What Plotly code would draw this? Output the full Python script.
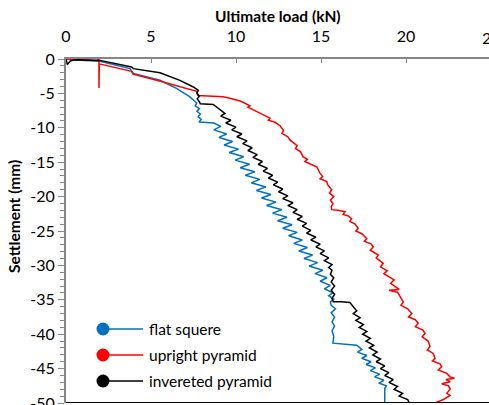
import plotly.graph_objects as go

# ---------------- data ----------------
series_names = ["flat squere", "upright pyramid", "invereted pyramid"]

flat_load = [0, 0.3, 2.0, 3.76, 3.96, 5.53, 6.5, 7.29, 7.69, 7.6, 7.85, 7.7, 7.9, 7.78, 7.95, 7.82,
             8.7, 9.1, 8.7, 9.45, 9.0, 9.8, 9.3, 10.15, 9.6, 10.45, 9.95, 10.8, 10.25, 11.1, 10.55,
             11.4, 10.9, 11.75, 11.2, 12.05, 11.5, 12.35, 11.8, 12.7, 12.15, 13.0, 12.45, 13.3, 12.75,
             13.6, 13.1, 13.9, 13.4, 14.2, 13.7, 14.5, 14.0, 14.8, 14.3, 15.1, 14.65, 15.35, 14.95,
             15.55, 15.2, 15.7, 15.45, 15.75, 15.55,
             15.6, 15.85, 15.6, 15.8, 15.65, 15.8, 15.65, 15.75, 15.7,
             17.1, 17.4, 17.15, 17.7, 17.4, 17.95, 17.65, 18.2, 17.9, 18.45, 18.15, 18.7, 18.4,
             18.85, 18.75, 18.75]
flat_settle = [0, -0.1, -0.33, -1.4, -2.1, -3.1, -4.26, -5.5, -6.4, -6.8, -7.2, -7.6, -8.0, -8.4, -8.8, -9.16,
               -9.3, -9.8, -10.3, -10.9, -11.4, -12.0, -12.5, -13.1, -13.6, -14.2, -14.7, -15.3, -15.8, -16.4, -16.9,
               -17.5, -18.0, -18.6, -19.1, -19.7, -20.2, -20.8, -21.3, -21.9, -22.4, -23.0, -23.5, -24.1, -24.6,
               -25.2, -25.7, -26.3, -26.8, -27.4, -27.9, -28.5, -29.0, -29.6, -30.1, -30.7, -31.2, -31.8, -32.3,
               -32.9, -33.4, -34.0, -34.4, -34.9, -35.3,
               -35.8, -36.3, -36.9, -37.5, -38.2, -38.8, -39.5, -40.3, -41.3,
               -41.6, -42.2, -42.6, -43.1, -43.5, -44.0, -44.4, -44.9, -45.3, -45.8, -46.2, -46.7, -47.1,
               -47.5, -47.9, -50.0]

upright_load = [0, 1.8, 1.94, 1.94, 1.96, 3.86, 3.94, 5.5, 7.0, 7.69, 7.76, 8.5, 9.24, 9.7, 10.24, 10.5,
                10.82, 10.7, 11.2, 11.6, 12.0, 11.9, 12.3, 12.59, 12.8, 12.7, 13.05, 13.18, 13.6, 13.5,
                13.8, 13.94, 14.2, 14.05, 14.35, 14.76, 14.94, 15.1, 14.95, 15.34, 15.4, 15.63, 15.5,
                15.75, 15.55, 15.7, 15.6, 15.63, 16.0, 16.41, 16.3, 16.6, 16.8, 16.7, 17.0, 17.19, 17.05,
                17.4, 17.69, 17.55, 17.95, 18.08, 17.9, 18.37, 18.25, 18.66, 18.5, 18.9, 18.7, 18.96,
                19.3, 19.1, 19.6, 19.0, 19.5, 19.84, 19.7, 20.1, 20.34, 20.15, 20.55, 20.72, 20.55, 21.0,
                21.12, 20.95, 21.3, 21.41, 21.25, 21.6, 21.71, 21.55, 22.0, 22.1, 21.9, 22.4, 22.59,
                22.85, 22.35, 22.6, 22.1, 22.5, 22.6, 22.4, 22.59, 22.2, 21.71]
upright_settle = [0, -0.2, -0.1, -4.2, -0.7, -1.8, -2.2, -3.2, -4.2, -4.7, -5.3, -5.35, -5.48, -5.75, -6.1, -6.4,
                  -6.8, -7.0, -7.66, -8.1, -8.6, -8.9, -9.2, -9.7, -10.4, -10.8, -11.3, -11.8, -12.6, -13.0,
                  -13.5, -14.2, -14.6, -14.9, -15.2, -15.7, -16.6, -17.1, -17.4, -17.8, -18.3, -19.0, -19.5,
                  -20.0, -20.5, -21.0, -21.5, -21.9, -22.0, -22.2, -22.6, -22.8, -23.2, -23.6, -24.0, -24.6, -25.0,
                  -25.4, -26.1, -26.5, -26.9, -27.3, -27.8, -28.5, -28.9, -29.7, -30.2, -30.8, -31.2, -31.6,
                  -32.1, -32.6, -33.5, -33.6, -33.9, -35.3, -35.8, -36.3, -37.0, -37.5, -37.9, -38.4, -38.9, -39.4,
                  -39.9, -40.4, -41.0, -41.8, -42.3, -42.8, -43.5, -43.9, -44.3, -44.7, -45.2, -45.7, -46.2,
                  -46.4, -46.6, -46.9, -47.2, -47.5, -48.0, -48.6, -48.9, -49.5, -50.0]

inverted_load = [0, 0.08, 0.25, 0.5, 2.0, 3.86, 3.96, 5.53, 6.7, 7.49, 7.78, 7.7, 7.85, 7.72, 7.85, 7.9,
                 8.66, 9.06, 9.35, 9.1, 9.7, 9.4, 10.0, 9.75, 10.35, 10.05, 10.65, 10.4, 10.95, 10.7,
                 11.25, 11.0, 11.55, 11.3, 11.85, 11.6, 12.15, 11.9, 12.45, 12.2, 12.75, 12.5, 13.05, 12.75,
                 13.35, 13.05, 13.6, 13.35, 13.9, 13.6, 14.15, 13.9, 14.4, 14.15, 14.7, 14.4, 14.95, 14.7,
                 15.2, 14.95, 15.45, 15.2, 15.65, 15.45, 15.65,
                 15.55, 15.75, 15.6, 15.8, 15.6, 15.8, 15.65, 15.72, 16.2, 16.7, 16.9,
                 17.1, 16.9, 17.3, 17.05, 17.5, 17.25, 17.7, 17.45, 17.9, 17.65, 18.1, 17.85, 18.3, 18.05,
                 18.5, 18.25, 18.75, 18.5, 19.0, 18.75, 19.25, 19.0, 19.5, 19.3, 19.8, 19.6, 20.1, 20.2]
inverted_settle = [0, -0.8, -0.3, -0.1, -0.2, -1.16, -1.4, -2.0, -3.1, -4.07, -4.55, -5.0, -5.4, -5.8, -6.25, -6.5,
                   -6.6, -7.4, -7.9, -8.3, -8.9, -9.3, -9.9, -10.3, -10.9, -11.3, -11.9, -12.3, -12.9, -13.3,
                   -13.9, -14.3, -14.9, -15.3, -15.9, -16.3, -16.9, -17.3, -17.9, -18.3, -18.9, -19.3, -19.9, -20.3,
                   -20.9, -21.3, -21.9, -22.3, -22.9, -23.3, -23.9, -24.3, -24.9, -25.3, -25.9, -26.3, -26.9, -27.3,
                   -27.9, -28.3, -28.9, -29.3, -29.9, -30.3, -30.7,
                   -31.3, -31.8, -32.4, -33.0, -33.6, -34.2, -34.8, -35.3, -35.3, -35.4, -36.0,
                   -36.6, -37.0, -37.6, -38.0, -38.6, -39.0, -39.6, -40.0, -40.6, -41.0, -41.6, -42.0, -42.6, -43.0,
                   -43.6, -44.0, -44.6, -45.0, -45.6, -46.0, -46.6, -47.0, -47.6, -48.0, -48.6, -49.0, -49.5, -50.0]

x_ticks = [0, 5, 10, 15, 20]
y_ticks = [0, -5, -10, -15, -20, -25, -30, -35, -40, -45, -50]
y_tick_text = ["0", "-5", "-10", "-15", "-20", "-25", "-30", "-35", "-40", "-45", "-50"]

# ---------------- figure ----------------
W, H = 489, 405
L, R, T, B = 66, 0, 59, 2
FONT = "Lato"
TICK_SIZE = 16
colors = ["#0070C0", "#FF0000", "#000000"]

fig = go.Figure()
for name, xs, ys, c in zip(series_names,
                           [flat_load, upright_load, inverted_load],
                           [flat_settle, upright_settle, inverted_settle], colors):
    fig.add_trace(go.Scatter(x=xs, y=ys, mode="lines", name=name,
                             line=dict(color=c, width=1.5), showlegend=False))

pw = W - L - R
ph = H - T - B


def px_x(px):
    return (px - L) / pw


def px_y(py):
    return (H - B - py) / ph


shapes = []
annotations = []
# bottom black line
shapes.append(dict(type="line", xref="paper", yref="y", x0=0, x1=1, y0=-50, y1=-50,
                   line=dict(color="black", width=2)))

# manual legend
rows = [329, 355, 381]
rad = 6.5
for name, c, ry in zip(series_names, colors, rows):
    shapes.append(dict(type="line", xref="paper", yref="paper",
                       x0=px_x(103), x1=px_x(143), y0=px_y(ry), y1=px_y(ry),
                       line=dict(color=c, width=1.5)))
    shapes.append(dict(type="circle", xref="paper", yref="paper",
                       x0=px_x(103 - rad), x1=px_x(103 + rad),
                       y0=px_y(ry + rad), y1=px_y(ry - rad),
                       fillcolor=c, line=dict(color=c, width=0)))
    annotations.append(dict(xref="paper", yref="paper", x=px_x(147), y=px_y(ry),
                            xanchor="left", yanchor="middle", text=name, showarrow=False,
                            font=dict(family=FONT, size=15.5, color="#000000")))

# axis titles
annotations.append(dict(xref="paper", yref="paper", x=px_x(278), y=px_y(16),
                        xanchor="center", yanchor="middle", text="<b>Ultimate load (kN)</b>",
                        showarrow=False, font=dict(family=FONT, size=15.5, color="#000000")))
annotations.append(dict(xref="paper", yref="paper", x=px_x(14), y=px_y(217),
                        xanchor="center", yanchor="middle", text="<b>Settlement (mm)</b>",
                        textangle=-90, showarrow=False,
                        font=dict(family=FONT, size=15.5, color="#000000")))
# partially visible "25" tick label at the right edge
annotations.append(dict(xref="paper", yref="paper", x=px_x(L + 25 * 17.0), y=px_y(38),
                        xanchor="center", yanchor="middle", text="25", showarrow=False,
                        font=dict(family=FONT, size=TICK_SIZE, color="#000000")))

fig.update_layout(
    width=W, height=H,
    margin=dict(l=L, r=R, t=T, b=B, pad=0, autoexpand=False),
    paper_bgcolor="white", plot_bgcolor="white",
    shapes=shapes, annotations=annotations,
    showlegend=False,
    xaxis=dict(range=[0, pw / 17.0], side="top", tickvals=x_ticks,
               ticks="inside", ticklen=4, tickcolor="#868686", tickwidth=1,
               showline=True, linecolor="#868686", linewidth=2, automargin=False,
               showgrid=False, zeroline=False, ticklabelstandoff=9,
               tickfont=dict(family=FONT, size=TICK_SIZE, color="#000000")),
    yaxis=dict(range=[-50, 0], tickvals=y_ticks, ticktext=y_tick_text,
               ticks="outside", ticklen=6, tickcolor="#868686", tickwidth=1,
               minor=dict(dtick=1, ticks="outside", ticklen=4, tickcolor="#868686", showgrid=False),
               showline=True, linecolor="#868686", linewidth=2, automargin=False,
               showgrid=False, zeroline=False, ticklabeloverflow="allow",
               tickfont=dict(family=FONT, size=TICK_SIZE, color="#000000")),
)

fig.write_html("out.html")
